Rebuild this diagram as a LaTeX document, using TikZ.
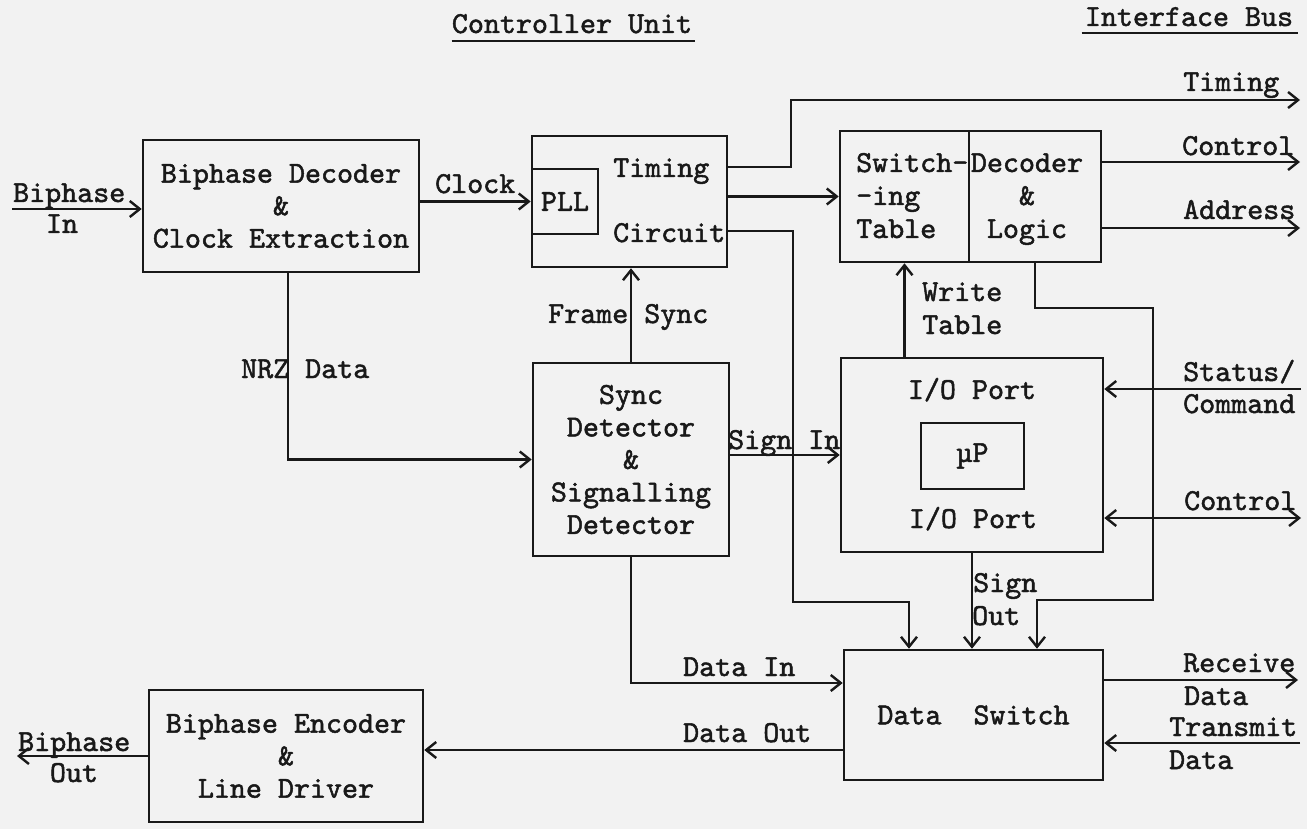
\documentclass[tikz,border=0pt]{standalone}
\usepackage{fontspec}
\newfontfamily\typew{lmmono10-regular.otf}[FakeBold=1.6]
\usetikzlibrary{arrows.meta}
\definecolor{paper}{gray}{0.95}
\definecolor{ink}{gray}{0.1}
\tikzset{
  every node/.style={font=\typew\fontsize{30.5}{32.5}\selectfont, text=ink},
  box/.style={draw=ink, line width=2.6pt, inner sep=0pt, align=center},
  lbl/.style={inner sep=0pt, anchor=base west},
  lblc/.style={inner sep=0pt, anchor=base},
  wire/.style={draw=ink, line width=2.4pt},
  arr/.style={wire, -{Straight Barb[length=10pt,width=16pt]}},
  arrtwo/.style={wire, {Straight Barb[length=10pt,width=16pt]}-{Straight Barb[length=10pt,width=16pt]}},
}
\begin{document}
\begin{tikzpicture}[x=1pt,y=-1pt]
\useasboundingbox (0,0) rectangle (1307,829);
\fill[paper] (0,0) rectangle (1307,829);

% titles
\node[lblc] (cu) at (572,33) {Controller Unit};
\draw[wire] ([yshift=-8pt]cu.base west) -- ([yshift=-8pt,xshift=3pt]cu.base east);
\node[lblc] (ib) at (1189,26) {Interface Bus};
\draw[wire] ([yshift=-7pt,xshift=-3pt]ib.base west) -- ([yshift=-7pt,xshift=5pt]ib.base east);

% blocks
\node[box, minimum width=276pt, minimum height=132pt] (dec) at (281,206) {Biphase Decoder\\\&\\Clock Extraction};
\node[box, minimum width=195pt, minimum height=131pt] (tim) at (629.5,201.5) {};
\node[box, minimum width=66pt, minimum height=65pt] (pll) at (565,201.5) {PLL};
\node[lbl] (timT) at (613,177) {Timing};
\node[lbl] (timC) at (613,242) {Circuit};

\node[box, minimum width=129pt, minimum height=131pt] (sw) at (904.5,196.5) {};
\node[box, minimum width=132pt, minimum height=131pt] (dl) at (1035,196.5) {};
\node[lbl] (sw1) at (856,172) {Switch-};
\node[lbl] (sw2) at (856,205) {-ing};
\node[lbl] (sw3) at (856,238) {Table};
\node[lblc] (dl1) at (1027,172) {Decoder};
\node[lblc] (dl2) at (1027,205) {\&};
\node[lblc] (dl3) at (1027,238) {Logic};

\node[box, minimum width=262pt, minimum height=194pt] (io) at (972,455) {};
\node[box, minimum width=103pt, minimum height=66pt] (up) at (972.5,456) {µP};
\node[lblc] (io1) at (972,399) {I/O Port};
\node[lblc] (io2) at (973,528) {I/O Port};

\node[box, minimum width=196pt, minimum height=193pt] (sync) at (631,459.5) {Sync\\Detector\\\&\\Signalling\\Detector};
\node[box, minimum width=259pt, minimum height=130pt] (ds) at (973.5,715) {Data\ \ Switch};
\node[box, minimum width=274pt, minimum height=132pt] (enc) at (286,756) {Biphase Encoder\\\&\\Line Driver};

% coordinates
\coordinate (bin) at (12,209);
\coordinate (yT) at (0,167);
\coordinate (xT) at (791,0);
\coordinate (tout) at (1300,100);
\coordinate (yC) at (0,231);
\coordinate (xC) at (793,0);
\coordinate (yB) at (0,602);
\coordinate (yB2) at (0,600);
\coordinate (cout) at (1300,162);
\coordinate (aout) at (1300,228);
\coordinate (yD) at (0,308);
\coordinate (xD) at (1153,0);
\coordinate (sc) at (1301,389);
\coordinate (ctl) at (1301,518);
\coordinate (xN) at (288,0);
\coordinate (yDI) at (0,683);
\coordinate (yDO) at (0,750);
\coordinate (bout) at (17,756);
\coordinate (rcv) at (1298,680);
\coordinate (xmt) at (1300,743);
\coordinate (dsA) at ([xshift=-64.5pt]ds.north);
\coordinate (dsC) at ([xshift=63.5pt]ds.north);

% connectors
\draw[arr] (bin) -- (bin -| dec.west);
\draw[arr] (dec.east |- pll.west) -- (pll.west);
\draw[arr] (tim.east |- yT) -- (xT |- yT) -- (xT |- tout) -- (tout);
\draw[arr] (tim.east |- sw.west) -- (sw.west);
\draw[arr] (tim.east |- yC) -- (xC |- yC) -- (xC |- yB) -- (dsA |- yB) -- (dsA);
\draw[arr] (dl.east |- cout) -- (cout);
\draw[arr] (dl.east |- aout) -- (aout);
\draw[arr] (io.north -| sw.south) -- (sw.south);
\draw[arr] (dl.south) -- (dl.south |- yD) -- (xD |- yD) -- (xD |- yB2) -- (dsC |- yB2) -- (dsC);
\draw[arr] (sc) -- (sc -| io.east);
\draw[arrtwo] (ctl) -- (ctl -| io.east);
\draw[arr] (io.south) -- (io.south |- ds.north);
\draw[arr] (sync.north) -- (sync.north |- tim.south);
\draw[arr] (xN |- dec.south) -- (xN |- sync.west) -- (sync.west);
\draw[arr] (sync.east |- io.west) -- (io.west);
\draw[arr] (sync.south) -- (sync.south |- yDI) -- (ds.west |- yDI);
\draw[arr] (ds.west |- yDO) -- (enc.east |- yDO);
\draw[arr] (enc.west |- bout) -- (bout);
\draw[arr] (ds.east |- rcv) -- (rcv);
\draw[arr] (xmt) -- (xmt -| ds.east);

% labels
\node[lbl] (lbi1) at (13,202) {Biphase};
\node[lblc] (lbi2) at (62,233) {In};
\node[lbl] (lclk) at (435,193) {Clock};
\node[lbl] (ltim) at (1183,91) {Timing};
\node[lbl] (lctl1) at (1182,155) {Control};
\node[lbl] (ladr) at (1183,219) {Address};
\node[lbl] (lwr1) at (922,301) {Write};
\node[lbl] (lwr2) at (922,334) {Table};
\node[lbl] (lfs) at (548,323) {Frame Sync};
\node[lbl] (lnrz) at (241,378) {NRZ Data};
\node[lbl] (lsi) at (728,449) {Sign In};
\node[lbl] (lst1) at (1183,381) {Status/};
\node[lbl] (lst2) at (1183,413) {Command};
\node[lbl] (lctl2) at (1184,510) {Control};
\node[lbl] (lso1) at (973,592) {Sign};
\node[lbl] (lso2) at (972,625) {Out};
\node[lbl] (ldi) at (683,676) {Data In};
\node[lbl] (ldo) at (683,742) {Data Out};
\node[lbl] (lrx1) at (1183,672) {Receive};
\node[lbl] (lrx2) at (1184,705) {Data};
\node[lbl] (ltx1) at (1169,736) {Transmit};
\node[lbl] (ltx2) at (1169,769) {Data};
\node[lbl] (lbo1) at (18,751) {Biphase};
\node[lblc] (lbo2) at (74,782) {Out};
\end{tikzpicture}
\end{document}
